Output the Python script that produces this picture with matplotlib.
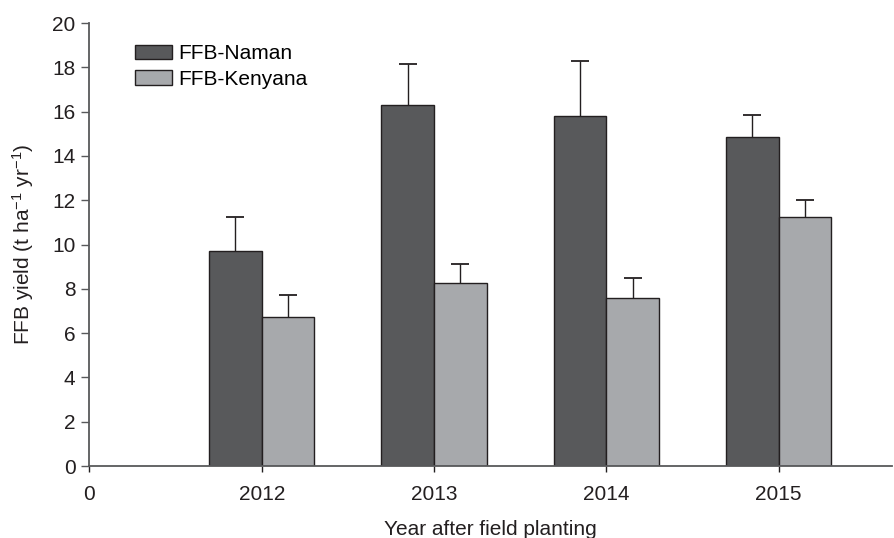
import numpy as np
import matplotlib
matplotlib.use("Agg")
import matplotlib.pyplot as plt

plt.rcParams["font.family"] = ["Liberation Sans", "DejaVu Sans"]
plt.rcParams["mathtext.default"] = "regular"

years = ["2012", "2013", "2014", "2015"]
naman = [9.7, 16.3, 15.8, 14.85]
naman_err = [1.55, 1.85, 2.5, 1.0]
kenyana = [6.72, 8.25, 7.6, 11.25]
kenyana_err = [1.0, 0.85, 0.9, 0.75]

dark = "#58595b"
light = "#a7a9ac"
edge = "#231f20"
txt = "#231f20"
fs = 15

fig = plt.figure(figsize=(8.94, 5.38), dpi=100)
ax = fig.add_axes([0.1001, 0.1338, 0.8979, 0.8234])

x = np.arange(1, len(years) + 1)
w = 0.305
ax.bar(x - w / 2, naman, w, color=dark, edgecolor=edge, linewidth=1.0,
       label="FFB-Naman", zorder=2)
ax.bar(x + w / 2, kenyana, w, color=light, edgecolor=edge, linewidth=1.0,
       label="FFB-Kenyana", zorder=2)

# upward-only error bars: stem + top cap
for xs, vals, errs in [(x - w / 2, naman, naman_err),
                       (x + w / 2, kenyana, kenyana_err)]:
    tops = np.array(vals) + np.array(errs)
    ax.vlines(xs, vals, tops, color=edge, linewidth=1.0, zorder=1)
    ax.plot(xs, tops, linestyle="none", marker="_", markersize=13,
            markeredgewidth=1.3, color=edge, zorder=1)

ax.set_xlim(0, 4.66)
ax.set_ylim(0, 20)
ax.set_xticks([0] + list(x))
ax.set_xticklabels(["0"] + years)
ax.set_yticks(np.arange(0, 21, 2))

for s in ["top", "right"]:
    ax.spines[s].set_visible(False)
for s in ["left", "bottom"]:
    ax.spines[s].set_color(dark)
    ax.spines[s].set_linewidth(1.3)

ax.tick_params(axis="y", direction="out", length=6, width=1, color=dark,
               labelsize=fs, labelcolor=txt, pad=4)
ax.tick_params(axis="x", direction="out", length=4.5, width=1, color=edge,
               labelsize=fs, labelcolor=txt, pad=9)

ax.set_xlabel("Year after field planting", fontsize=fs, color=txt, labelpad=12)
ax.set_ylabel("FFB yield (t ha$^{-1}$ yr$^{-1}$)", fontsize=fs, color=txt,
              labelpad=12)

ax.legend(loc="upper left", bbox_to_anchor=(0.057, 0.952), frameon=False,
          fontsize=fs, handlelength=1.75, handleheight=0.7,
          handletextpad=0.3, labelspacing=0.3, borderaxespad=0,
          borderpad=0)

fig.savefig("out.png", dpi=100)
